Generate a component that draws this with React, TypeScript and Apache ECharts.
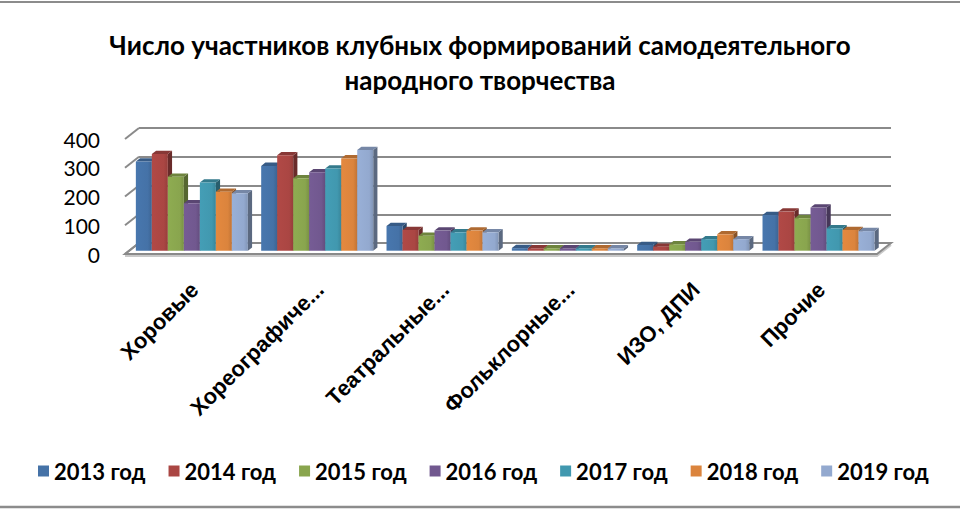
import { useEffect, useRef } from "react";
import * as echarts from "echarts";

const categories = ["Хоровые", "Хореографиче...", "Театральные...", "Фольклорные...", "ИЗО, ДПИ", "Прочие"];
const years = ["2013 год", "2014 год", "2015 год", "2016 год", "2017 год", "2018 год", "2019 год"];

const v2013 = [310, 295, 86, 9, 20, 124];
const v2014 = [336, 332, 72, 8, 14, 136];
const v2015 = [257, 252, 52, 8, 22, 113];
const v2016 = [165, 273, 70, 8, 31, 150];
const v2017 = [237, 286, 64, 8, 40, 78];
const v2018 = [205, 321, 70, 8, 57, 72];
const v2019 = [200, 350, 64, 8, 40, 68];
const seriesValues = [v2013, v2014, v2015, v2016, v2017, v2018, v2019];

const yTicks = [0, 100, 200, 300, 400];
const colors = ["#4572A7", "#AA4643", "#89A54E", "#71588F", "#4198AF", "#DB843D", "#93A9CF"];

const DX = 14;
const DY = -11;
const BAR_FRONT = 0.3;
const BAR_BACK = 0.6;
const BAR_FRAC = 0.1277;
const GRID_LINE = "#8a8a8a";

function shade(hex: string, f: number): string {
  const n = parseInt(hex.slice(1), 16);
  const r = Math.min(255, Math.round(((n >> 16) & 255) * f));
  const g = Math.min(255, Math.round(((n >> 8) & 255) * f));
  const b = Math.min(255, Math.round((n & 255) * f));
  return "rgb(" + r + "," + g + "," + b + ")";
}

const renderBar = (si: number) => (params: any, api: any) => {
  const cat = api.value(0);
  const val = api.value(1);
  const base = api.coord([cat, 0]);
  const top = api.coord([cat, val]);
  const band = api.size([1, 0])[0];
  const bw = band * BAR_FRAC;
  const fdx = DX * BAR_FRONT;
  const fdy = DY * BAR_FRONT;
  const ddx = DX * (BAR_BACK - BAR_FRONT);
  const ddy = DY * (BAR_BACK - BAR_FRONT);
  const x0 = base[0] - (years.length / 2) * bw + si * bw + fdx;
  const yb = base[1] + fdy;
  const yt = top[1] + fdy;
  const c = colors[si];
  return {
    type: "group",
    children: [
      {
        type: "polygon",
        shape: { points: [[x0 + bw, yt], [x0 + bw + ddx, yt + ddy], [x0 + bw + ddx, yb + ddy], [x0 + bw, yb]] },
        style: { fill: shade(c, 0.62) },
      },
      {
        type: "polygon",
        shape: { points: [[x0, yt], [x0 + ddx, yt + ddy], [x0 + bw + ddx, yt + ddy], [x0 + bw, yt]] },
        style: { fill: shade(c, 0.8) },
      },
      {
        type: "rect",
        shape: { x: x0, y: yt, width: bw, height: Math.max(0, yb - yt) },
        style: {
          fill: new echarts.graphic.LinearGradient(0, 0, 1, 0, [
            { offset: 0, color: shade(c, 1.04) },
            { offset: 0.75, color: c },
            { offset: 1, color: shade(c, 0.88) },
          ]),
        },
      },
    ],
  };
};

const renderFloor = (params: any, api: any) => {
  const cs = params.coordSys;
  const y0 = api.coord([0, 0])[1];
  const xl = cs.x;
  const xr = cs.x + cs.width;
  return {
    type: "group",
    children: [
      {
        type: "polyline",
        shape: { points: [[xl, y0 + 2], [xr, y0 + 2], [xr + DX, y0 + DY + 2]] },
        style: { stroke: "#c9c9c9", lineWidth: 2, fill: "none" },
      },
      {
        type: "polygon",
        shape: { points: [[xl, y0], [xr, y0], [xr + DX, y0 + DY], [xl + DX, y0 + DY]] },
        style: { fill: "#ffffff", stroke: GRID_LINE, lineWidth: 2 },
      },
    ],
  };
};

const renderWallTick = (params: any, api: any) => {
  const cs = params.coordSys;
  const y = api.coord([0, api.value(1)])[1];
  return {
    type: "line",
    shape: { x1: cs.x, y1: y, x2: cs.x + DX, y2: y + DY },
    style: { stroke: GRID_LINE, lineWidth: 2 },
  };
};

export default function App() {
  const ref = useRef<HTMLDivElement>(null);
  useEffect(() => {
    if (!ref.current) return;
    const chart = echarts.init(ref.current, null, { renderer: "svg" });
    const series: any[] = [
      {
        type: "custom",
        name: "floor",
        xAxisIndex: 0,
        yAxisIndex: 0,
        silent: true,
        z: 1,
        data: [[0, 0]],
        encode: { x: 0, y: 1 },
        renderItem: renderFloor,
      },
      {
        type: "custom",
        name: "wall",
        xAxisIndex: 0,
        yAxisIndex: 0,
        silent: true,
        z: 1,
        data: yTicks.map((v) => [0, v]),
        encode: { x: 0, y: 1 },
        renderItem: renderWallTick,
      },
    ];
    seriesValues.forEach((vals, si) => {
      series.push({
        type: "custom",
        name: years[si],
        xAxisIndex: 0,
        yAxisIndex: 0,
        z: 2,
        itemStyle: { color: colors[si] },
        data: vals.map((v, j) => [j, v]),
        encode: { x: 0, y: 1 },
        renderItem: renderBar(si),
      });
    });
    chart.setOption({
      animation: false,
      backgroundColor: "#ffffff",
      title: {
        text: "Число участников клубных формирований самодеятельного\nнародного творчества",
        left: "center",
        top: 22,
        textStyle: {
          fontFamily: "Lato",
          fontWeight: "bold",
          fontSize: 26,
          lineHeight: 35,
          color: "#000000",
        },
      },
      legend: {
        data: years,
        left: 33,
        top: 455,
        width: 920,
        icon: "rect",
        itemWidth: 11,
        itemHeight: 11,
        itemGap: 23,
        textStyle: { fontFamily: "Lato", fontWeight: "bold", fontSize: 22, color: "#000000" },
      },
      grid: [
        { left: 125, right: 83, top: 139, bottom: 256 },
        { left: 139, right: 69, top: 128, bottom: 267 },
        { left: 132, right: 76, top: 240, bottom: 224 },
      ],
      xAxis: [
        {
          type: "category",
          gridIndex: 0,
          data: categories,
          axisLine: { show: false },
          axisTick: { show: false },
          axisLabel: { show: false },
          splitLine: { show: false },
        },
        {
          type: "value",
          gridIndex: 1,
          show: false,
        },
        {
          type: "category",
          gridIndex: 2,
          data: categories,
          axisLine: { show: false },
          axisTick: { show: false },
          splitLine: { show: false },
          axisLabel: {
            interval: 0,
            rotate: 45,
            margin: 0,
            fontFamily: "Liberation Sans",
            fontWeight: "bold",
            fontSize: 22,
            color: "#000000",
          },
        },
      ],
      yAxis: [
        {
          type: "value",
          gridIndex: 0,
          min: 0,
          max: 400,
          interval: 100,
          axisLine: { show: false },
          axisTick: { show: false },
          splitLine: { show: false },
          axisLabel: { margin: 25, fontFamily: "Lato", fontSize: 21, color: "#000000" },
        },
        {
          type: "value",
          gridIndex: 1,
          min: 0,
          max: 400,
          interval: 100,
          axisLine: { show: false },
          axisTick: { show: false },
          axisLabel: { show: false },
          splitLine: { show: true, lineStyle: { color: GRID_LINE, width: 2 } },
        },
        {
          type: "value",
          gridIndex: 2,
          show: false,
        },
      ],
      graphic: [
        { type: "line", shape: { x1: 0, y1: 2, x2: 960, y2: 2 }, style: { stroke: "#8c8c8c", lineWidth: 2 } },
        { type: "line", shape: { x1: 0, y1: 507, x2: 960, y2: 507 }, style: { stroke: "#8c8c8c", lineWidth: 2.5 } },
      ],
      series,
    });
    return () => chart.dispose();
  }, []);
  return (
    <div
      ref={ref}
      style={{ position: "absolute", left: 0, top: 0, width: 960, height: 510, background: "#fff" }}
    />
  );
}
